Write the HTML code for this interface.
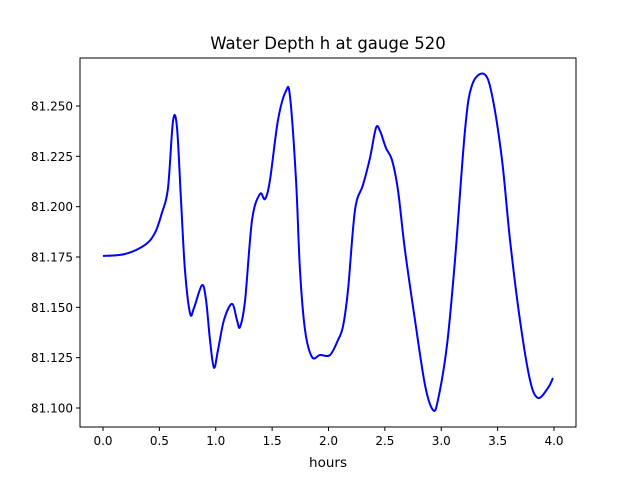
<!DOCTYPE html>
<html><head><meta charset="utf-8"><style>body{margin:0;background:#fff}svg{display:block;font-family:"DejaVu Sans","Liberation Sans",sans-serif}</style></head>
<body>
<svg id="chart" width="640" height="480">
<rect width="640" height="480" fill="#fff"/>
<text x="328" y="49" text-anchor="middle" font-size="16.5">Water Depth h at gauge 520</text>
<g id="axes"></g>
<text x="328" y="467" text-anchor="middle" font-size="13.5">hours</text>
</svg>
<script>
const hours=[0,0.195,0.372,0.461,0.523,0.576,0.621,0.656,0.692,0.727,0.772,0.807,0.878,0.914,0.949,0.984,1.020,1.073,1.144,1.188,1.215,1.260,1.322,1.392,1.437,1.481,1.552,1.623,1.659,1.712,1.747,1.792,1.854,1.925,2.013,2.084,2.129,2.173,2.235,2.306,2.368,2.421,2.457,2.510,2.563,2.616,2.678,2.767,2.856,2.927,2.971,3.051,3.122,3.211,3.273,3.379,3.450,3.539,3.610,3.698,3.787,3.858,3.947,3.991];
const depth=[81.1755,81.1765,81.181,81.187,81.197,81.209,81.2425,81.2395,81.203,81.1685,81.147,81.1497,81.161,81.1536,81.1337,81.120,81.1288,81.1437,81.1517,81.1437,81.1402,81.1534,81.1934,81.2063,81.2038,81.2132,81.243,81.2575,81.2545,81.2132,81.1685,81.1387,81.1253,81.1263,81.1263,81.1337,81.1407,81.1586,81.1983,81.2108,81.2242,81.2391,81.2376,81.2291,81.2232,81.2083,81.1785,81.1437,81.1114,81.099,81.104,81.1313,81.1735,81.2381,81.2604,81.2659,81.2555,81.2232,81.1834,81.1437,81.1139,81.105,81.110,81.1149];
const xTicks=[0,0.5,1,1.5,2,2.5,3,3.5,4];
const xTickLabels=["0.0","0.5","1.0","1.5","2.0","2.5","3.0","3.5","4.0"];
const yTicks=[81.100,81.125,81.150,81.175,81.200,81.225,81.250];
const yTickLabels=["81.100","81.125","81.150","81.175","81.200","81.225","81.250"];
const L=80,R=576,T=58,B=427;
const sx=t=>103+112.75*t;
const sy=v=>106+(81.25-v)*2013.3;
const NS="http://www.w3.org/2000/svg";
const g=document.getElementById('axes');
function mk(tag,attrs){const e=document.createElementNS(NS,tag);for(const k in attrs)e.setAttribute(k,attrs[k]);return e;}
let pts=hours.map((h,i)=>[sx(h),sy(depth[i])]);
let d="M"+pts[0][0]+","+pts[0][1];
for(let i=0;i<pts.length-1;i++){
 const p0=pts[Math.max(0,i-1)],p1=pts[i],p2=pts[i+1],p3=pts[Math.min(pts.length-1,i+2)];
 const c1=[p1[0]+(p2[0]-p0[0])/6,p1[1]+(p2[1]-p0[1])/6];
 const c2=[p2[0]-(p3[0]-p1[0])/6,p2[1]-(p3[1]-p1[1])/6];
 d+=` C${c1[0]},${c1[1]} ${c2[0]},${c2[1]} ${p2[0]},${p2[1]}`;
}
const line=mk('path',{d:d,fill:'none',stroke:'#0000ff','stroke-width':2,'stroke-linejoin':'round'});


g.appendChild(line);
const frame=mk('rect',{x:L,y:T,width:R-L,height:B-T,fill:'none',stroke:'#000','stroke-width':1});


g.appendChild(frame);
xTicks.forEach((t,i)=>{
 const x=sx(t);
 const tk=mk('line',{x1:x,x2:x,y1:B,y2:B+4,stroke:'#000'});
 
 
 g.appendChild(tk);
 const tx=mk('text',{x:x,y:B+18,'text-anchor':'middle','font-size':12});
 tx.textContent=xTickLabels[i];
 
 
 g.appendChild(tx);
});
yTicks.forEach((v,i)=>{
 const y=sy(v);
 const tk=mk('line',{x1:L-4,x2:L,y1:y,y2:y,stroke:'#000'});
 
 
 g.appendChild(tk);
 const tx=mk('text',{x:L-7,y:y+4.5,'text-anchor':'end','font-size':12});
 tx.textContent=yTickLabels[i];
 
 
 g.appendChild(tx);
});
</script>
</body></html>
